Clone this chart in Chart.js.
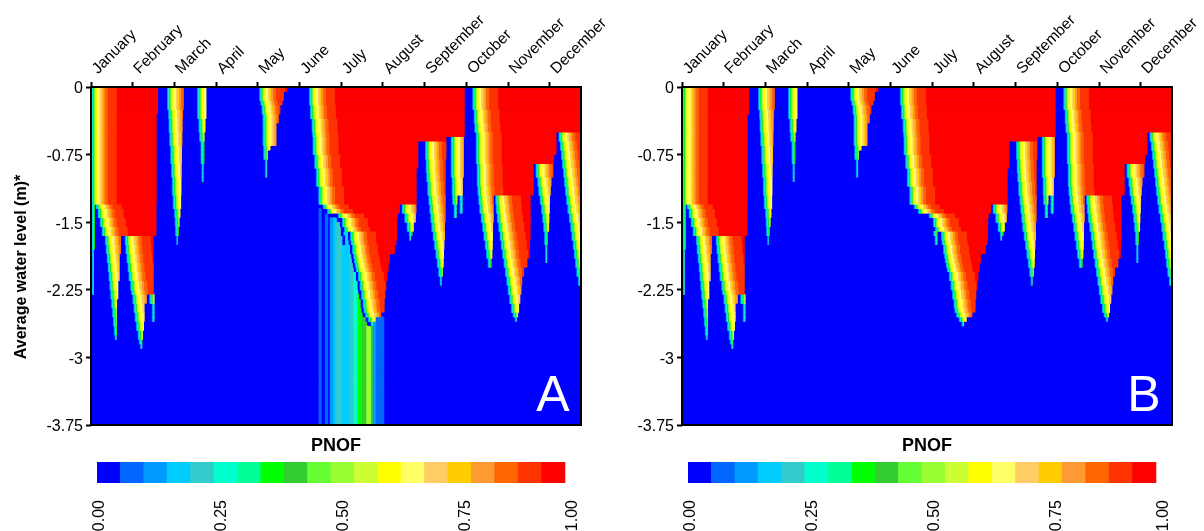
<!DOCTYPE html>
<html>
<head>
<meta charset="utf-8">
<style>
  html, body { margin: 0; background: #fff; width: 1204px; height: 531px; overflow: hidden; position: relative; }
  canvas { position: absolute; }
</style>
<script src="https://cdn.jsdelivr.net/npm/chart.js@4"></script>
</head>
<body>
<canvas id="plotA" style="left:0;top:0" width="620" height="431"></canvas>
<canvas id="plotB" style="left:591px;top:0" width="613" height="431"></canvas>
<canvas id="barA" style="left:0;top:431px" width="672" height="100"></canvas>
<canvas id="barB" style="left:591px;top:431px" width="672" height="100"></canvas>
<script>
const months = ['January', 'February', 'March', 'April', 'May', 'June', 'July', 'August', 'September', 'October', 'November', 'December'];
const monthDays = [0, 30, 60, 90, 120, 150, 180, 210, 240, 270, 300, 330];
const depthValues = [0, -0.75, -1.5, -2.25, -3, -3.75];
const depthLabels = ['0', '-0.75', '-1.5', '-2.25', '-3', '-3.75'];
const pnofLabels = ['0.00', '0.25', '0.50', '0.75', '1.00'];
const pnofCells = [0, 5.2, 10.45, 15.65, 20.2];
const palette = ['#0000ff', '#0066ff', '#0099ff', '#00ccff', '#33cccc', '#00ffcc', '#00ff99', '#00ff00', '#33cc33', '#66ff33',
  '#99ff33', '#ccff33', '#ffff00', '#ffff66', '#ffcc66', '#ffcc00', '#ff9933', '#ff6600', '#ff3300', '#ff0000'];

// days after a flood front where each palette colour starts, index 0 is the blue rim
const rampDays = [-1.4, 0, 0.3, 0.6, 0.9, 1.2, 1.5, 1.8, 2.1, 2.4, 2.8, 3.2, 3.6, 5, 6.5, 7.6, 8.6, 10, 12.2, 18.7];

// each flood: top depth, then [bottom depth, front day, end day]
const floods = [
  [0, [0.3, 0, 48], [1.3, 0, 47]],
  [1.3, [1.8, 0.4, 2.5], [2.3, 0.7, 1.8]],
  [1.3, [1.35, 3.6, 46.8], [1.45, 5, 46.8], [1.55, 6.5, 46.8], [1.65, 7.9, 46.8]],
  [1.65, [1.75, 10.2, 21.4], [1.85, 10.8, 21.4], [1.95, 11.5, 20.4], [2.05, 12.2, 20.4], [2.15, 12.8, 20.4], [2.25, 13.4, 19.4], [2.35, 14, 19.4], [2.45, 14.7, 18.5], [2.55, 15.4, 18.5], [2.65, 16, 18.5], [2.75, 16.6, 18.5], [2.8, 17.2, 18.2]],
  [1.65, [1.75, 24.5, 44.9], [1.85, 25, 44.9], [1.95, 25.7, 44.9], [2.05, 26.5, 44.9], [2.15, 27.2, 44.9], [2.25, 28.4, 44.9], [2.3, 29, 44.9], [2.4, 30, 39.9], [2.5, 30.8, 38.3], [2.6, 31.6, 38.3], [2.7, 32.6, 37.8], [2.8, 33.8, 37.2], [2.85, 34.6, 36.7], [2.9, 35.5, 36.7]],
  [2.3, [2.4, 42.1, 45.4], [2.6, 44, 45.4]],
  [0, [0.25, 54.9, 66.5], [0.35, 55.7, 66], [0.5, 56, 65.7], [0.65, 56.5, 65.5], [0.85, 57.2, 65.2], [1, 57.8, 65], [1.2, 58.4, 64.8], [1.35, 59, 64.6], [1.45, 60, 64.1], [1.55, 60.4, 63.5], [1.65, 60.7, 62.9], [1.75, 61.5, 62.2]],
  [0, [0.35, 76.5, 82.8], [0.5, 77.5, 82.1], [0.6, 78, 81.4], [0.85, 79, 81.4], [1.05, 79.7, 80.7]],
  [0, [0.05, 121.2, 141], [0.15, 121.2, 138.5], [0.2, 122, 137.5], [0.3, 122.9, 136], [0.4, 123.6, 134.9], [0.65, 123.6, 133.2], [0.7, 124.1, 128.9], [0.8, 124.1, 127], [1, 125.3, 126.5]],
  [0, [0.2, 157, 268.6], [0.35, 157.7, 268.6], [0.5, 158.9, 268.6], [0.55, 159.3, 268.6], [0.6, 159.6, 255.4], [0.75, 159.6, 235.2], [0.9, 160.8, 235.2], [1.1, 162, 234], [1.3, 163.7, 234],
    [1.35, 167, 222], [1.4, 170, 222], [1.45, 177.8, 220.5], [1.55, 180.7, 220], [1.6, 182.2, 220], [1.7, 186.5, 220], [1.75, 187, 219.5], [1.85, 188, 218.4], [1.9, 188.8, 214.8], [1.95, 189.3, 214.8], [2, 190, 214], [2.05, 190.7, 213.8],
    [2.15, 192.2, 213], [2.25, 193.4, 212.2], [2.35, 194.5, 211.5], [2.45, 195.6, 211], [2.5, 196.2, 210.9], [2.55, 197.4, 208.6], [2.6, 199.3, 204.5], [2.65, 201.3, 202.7]],
  [1.3, [1.4, 223.7, 233.8], [1.5, 225.6, 233.3], [1.6, 227.3, 232], [1.65, 228.8, 231], [1.7, 229, 230]],
  [0.6, [0.8, 240.5, 255.4], [0.95, 241, 254.9], [1.05, 241.4, 254.9], [1.2, 242.1, 254.9], [1.3, 242.9, 254.9], [1.4, 243.6, 254.9], [1.5, 244.3, 254.9], [1.6, 245, 254.4], [1.7, 246, 254.4], [1.8, 247, 254], [1.9, 248, 253.7], [2, 249, 253.5], [2.1, 250, 252.9], [2.2, 251, 252]],
  [0.55, [1, 259, 268], [1.2, 259.7, 267.3], [1.3, 260, 263.3], [1.45, 261.1, 262.8]],
  [1.2, [1.4, 265.3, 267]],
  [0, [0.25, 274.5, 352.5], [0.4, 275.5, 352.5], [0.5, 276, 352.5], [0.75, 277, 334.6], [0.85, 277, 332.9], [1.1, 277.7, 318.2], [1.2, 278.2, 318.2], [1.3, 278.8, 289.4], [1.4, 279.5, 289.4], [1.5, 280.6, 289.4], [1.6, 281.6, 289], [1.7, 282.5, 288.9], [1.8, 283.5, 288.7], [1.9, 284.4, 288.5], [2, 285.6, 288]],
  [1.2, [1.3, 291, 316], [1.4, 291.5, 316], [1.5, 292.2, 316], [1.6, 293.2, 316], [1.7, 294.2, 316], [1.8, 295, 315.6], [1.9, 296, 315.4], [2, 297, 313.7], [2.1, 298, 311.3], [2.2, 299, 310], [2.3, 300, 309.4], [2.4, 301, 308.6], [2.5, 302.3, 307.7], [2.55, 303.5, 307], [2.6, 305, 306]],
  [0.85, [1, 320, 332.4], [1.1, 321.3, 331], [1.2, 322, 330.5], [1.3, 323, 330], [1.4, 324, 329.8], [1.5, 324.8, 329.5], [1.6, 325.5, 329.3], [1.75, 326.2, 328.5], [1.95, 326.9, 328]],
  [0.5, [0.6, 336.5, 352.5], [0.7, 337.5, 352.5], [0.8, 338.3, 352.5], [0.9, 339, 352.5], [1, 339.8, 352.5], [1.1, 340.5, 352.5], [1.2, 341.2, 352.5], [1.3, 342, 352.5], [1.4, 342.9, 352.5], [1.5, 344, 352.5], [1.6, 345, 352.5], [1.7, 345.8, 352.5], [1.8, 346.8, 352.5], [1.9, 347.6, 352.5], [2, 348.4, 352.5], [2.1, 349.3, 352.5], [2.2, 350.5, 352.5]]
];
const floodsOnlyA = [[1.55, [1.65, 181.4, 181.4], [1.75, 182.5, 182.5]]];
const floodsOnlyB = [[1.6, [1.65, 181, 183.5], [1.75, 182, 183.5]]];

// panel A only: [start day, end day, palette index, top depth]
const stripesA = [
  [164, 165.6, 1, 1.35], [168.5, 170.4, 1, 1.4], [172, 174.7, 2, 1.45], [174.7, 176.6, 3, 1.45], [176.6, 180.7, 4, 1.5],
  [180.7, 186, 3, 1.55], [186, 189.1, 4, 1.7], [189.1, 192, 5, 2], [192, 195.1, 7, 2.3], [195.1, 198.3, 8, 2.55],
  [198.3, 201.6, 10, 2.65], [201.6, 203, 8, 2.65], [203, 205.2, 2, 2.6], [205.2, 210.7, 1, 2.55]
];

const ROW = 0.05;
const ROWS = 75;
const rowOf = d => Math.round(d / ROW);
const rowY = i => -(i + 0.5) * ROW;

function panelDatasets(list, stripes) {
  const colours = palette.map(() => []);
  const rim = [];
  list.forEach(flood => {
    let row = rowOf(flood[0]);
    flood.slice(1).forEach(([bottom, front, end]) => {
      for (; row < rowOf(bottom); row++) {
        rampDays.forEach((offset, c) => {
          const from = front + offset;
          const to = c === rampDays.length - 1 ? end : Math.min(end, front + rampDays[c + 1]);
          if (to <= from && c > 0) return;
          (c === 0 ? rim : colours[c]).push({ x: [from, c === 0 ? front : to], y: rowY(row) });
        });
      }
    });
  });
  const base = [];
  for (let i = 0; i < ROWS; i++) base.push({ x: [0, 352.5], y: rowY(i) });
  const stripeSets = stripes.map(([from, to, c, top]) => {
    const data = [];
    for (let i = rowOf(top); i < ROWS; i++) data.push({ x: [from, to], y: rowY(i) });
    return { data, backgroundColor: palette[c] };
  });
  // painter's order, chart.js draws the first dataset last
  const ordered = [{ data: base, backgroundColor: palette[0], inflateAmount: 1 }, ...stripeSets, { data: rim, backgroundColor: palette[0] }];
  colours.forEach((data, c) => { if (data.length) ordered.push({ data, backgroundColor: palette[c] }); });
  return ordered.reverse();
}

const frame = {
  id: 'frame',
  afterDatasetsDraw(chart, args, opts) {
    const { ctx, chartArea: a } = chart;
    ctx.save();
    ctx.strokeStyle = '#000';
    ctx.lineWidth = 2;
    ctx.strokeRect(a.left, a.top, a.right - a.left, a.bottom - a.top);
    ctx.fillStyle = '#fff';
    ctx.font = '50px "Liberation Sans"';
    ctx.textAlign = 'center';
    ctx.fillText(opts.letter, a.right - 28, a.bottom - 14);
    if (opts.yTitle) {
      ctx.fillStyle = '#000';
      ctx.font = 'bold 16px "Liberation Sans"';
      ctx.translate(26, 267);
      ctx.rotate(-Math.PI / 2);
      ctx.fillText(opts.yTitle, 0, 0);
    }
    ctx.restore();
  }
};

function drawPanel(id, letter, datasets, right, yTitle) {
  return new Chart(document.getElementById(id), {
    type: 'bar',
    data: { datasets },
    plugins: [frame],
    options: {
      indexAxis: 'y',
      responsive: false,
      animation: false,
      events: [],
      grouped: false,
      barPercentage: 1,
      categoryPercentage: 1,
      layout: { padding: { right, bottom: 6 } },
      plugins: { legend: { display: false }, tooltip: { enabled: false }, frame: { letter, yTitle } },
      scales: {
        x: {
          type: 'linear',
          position: 'top',
          offset: false,
          min: 0,
          max: 352.5,
          border: { display: false },
          grid: { drawOnChartArea: false, tickLength: 5, tickWidth: 2, tickColor: '#000' },
          ticks: { autoSkip: false, minRotation: 45, maxRotation: 45, color: '#000', padding: 4, labelOffset: 17, font: { size: 15.5 }, callback: (v) => months[monthDays.indexOf(v)] },
          afterBuildTicks: s => { s.ticks = monthDays.map(value => ({ value })); },
          afterFit: s => { s.height = 87; s.paddingLeft = 0; s.paddingRight = 0; }
        },
        y: {
          type: 'linear',
          offset: false,
          min: -3.75,
          max: 0,
          border: { display: false },
          grid: { offset: false, drawOnChartArea: false, tickLength: 5, tickWidth: 2, tickColor: '#000' },
          ticks: { color: '#000', padding: 3, labelOffset: 2, font: { size: 16 }, callback: (v) => depthLabels[depthValues.indexOf(v)] },
          afterBuildTicks: s => { s.ticks = depthValues.map(value => ({ value })); },
          afterFit: s => { s.width = 91; s.paddingTop = 0; s.paddingBottom = 0; }
        }
      }
    }
  });
}

function drawColourBar(id) {
  return new Chart(document.getElementById(id), {
    type: 'bar',
    data: { datasets: [{ data: palette.map((c, i) => ({ x: i + 0.5, y: 1 })), backgroundColor: palette }] },
    options: {
      responsive: false,
      animation: false,
      events: [],
      barPercentage: 1,
      categoryPercentage: 1,
      layout: { padding: { left: 97, right: 97 } },
      plugins: {
        legend: { display: false },
        tooltip: { enabled: false },
        title: { display: true, text: 'PNOF', color: '#000', font: { size: 18, weight: 'bold' }, padding: { top: 4, bottom: 5.4 } }
      },
      scales: {
        x: {
          type: 'linear',
          offset: false,
          min: 0,
          max: 20.43,
          border: { display: false },
          grid: { display: false },
          ticks: { autoSkip: false, minRotation: 90, maxRotation: 90, color: '#000', padding: 9, labelOffset: 2.5, font: { size: 16 }, callback: (v) => pnofLabels[pnofCells.indexOf(v)] },
          afterBuildTicks: s => { s.ticks = pnofCells.map(value => ({ value })); },
          afterFit: s => { s.height = 48; s.paddingLeft = 0; s.paddingRight = 0; }
        },
        y: { display: false, min: 0, max: 1 }
      }
    }
  });
}

Chart.defaults.font.family = '"Liberation Sans"';

drawPanel('plotA', 'A', panelDatasets([...floods, ...floodsOnlyA], stripesA), 39, 'Average water level (m)*');
drawPanel('plotB', 'B', panelDatasets([...floods, ...floodsOnlyB], []), 32, null);
drawColourBar('barA');
drawColourBar('barB');
</script>
</body>
</html>
